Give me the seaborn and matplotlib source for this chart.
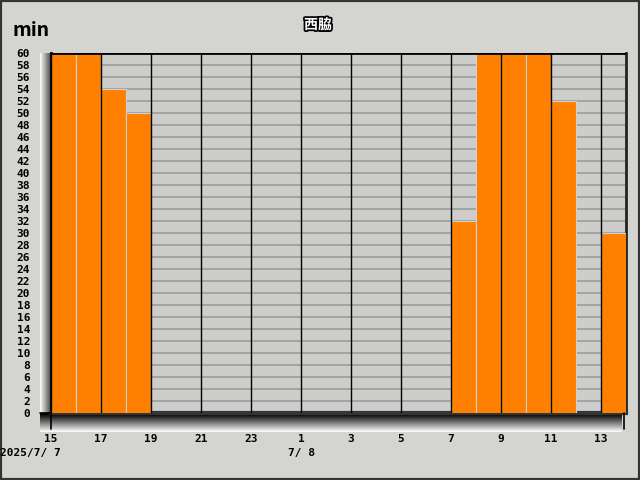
import matplotlib
matplotlib.use("Agg")
import matplotlib.pyplot as plt
import matplotlib.patheffects as pe
import seaborn as sns
import pandas as pd
import numpy as np

# hourly values (minutes) from 2025/7/7 15:00 to 2025/7/8 13:00
hours = [15, 16, 17, 18, 19, 20, 21, 22, 23, 0, 1, 2, 3, 4, 5, 6, 7, 8, 9, 10, 11, 12, 13]
minutes = [60, 60, 54, 50, 0, 0, 0, 0, 0, 0, 0, 0, 0, 0, 0, 0, 32, 60, 60, 60, 52, 0, 30]
tick_labels = ["15", "17", "19", "21", "23", "1", "3", "5", "7", "9", "11", "13"]

df = pd.DataFrame({"hour": [str(h) for h in hours], "min": minutes})

sns.set_style("white")
plt.rcParams['font.family'] = ['Noto Sans CJK JP', 'DejaVu Sans']
plt.rcParams['text.color'] = 'black'
plt.rcParams['xtick.color'] = 'black'
plt.rcParams['ytick.color'] = 'black'

bg = "#d4d4d0"
fig = plt.figure(figsize=(6.4, 4.8), dpi=100, facecolor=bg)

# bevel strips under and left of the plot
grad = np.linspace(0, 1, 64)
bax = fig.add_axes([40 / 640, 1 - 432 / 480, 582 / 640, 19 / 480])
bax.imshow(grad[:, None], aspect="auto", cmap="gray", vmin=0.05, vmax=1.0, extent=[0, 1, 0, 1])
bax.axis("off")
lax = fig.add_axes([40 / 640, 1 - 413 / 480, 11 / 640, 360 / 480])
lax.imshow(grad[None, ::-1], aspect="auto", cmap="gray", vmin=-0.4, vmax=1.0, extent=[0, 1, 0, 1])
lax.axis("off")

ax = fig.add_axes([51 / 640, 1 - 413 / 480, 575 / 640, 360 / 480])
ax.set_facecolor("#cdcdcb")

sns.barplot(data=df, x="hour", y="min", order=df["hour"], color="#ff8000",
            saturation=1, width=1.0, edgecolor="#d0d0d0", linewidth=0.8, ax=ax, zorder=3)

ax.set_xlim(-0.5, len(hours) - 0.5)
ax.set_ylim(0, 60)
ax.set_yticks(range(0, 61, 2))
ax.set_yticklabels([str(v) for v in range(0, 61, 2)], family="DejaVu Sans Mono",
                   fontsize=8, fontweight="bold")
for v in range(2, 61, 2):
    ax.axhline(v, color="#9c9c9c", lw=1.2, zorder=1)
for i in range(0, len(hours), 2):
    ax.axvline(i - 0.5, color="black", lw=1, zorder=4)
ax.set_xticks([i - 0.5 for i in range(0, len(hours), 2)])
ax.set_xticklabels(tick_labels, family="DejaVu Sans Mono", fontsize=8, fontweight="bold")
ax.tick_params(axis="y", length=0, pad=15)
ax.tick_params(axis="x", length=0, pad=15)
ax.set_xlabel("")
ax.set_ylabel("")
ax.spines["top"].set_visible(False)
ax.spines["right"].set_color("#222222")
ax.spines["right"].set_linewidth(2)
ax.spines["left"].set_color("black")
ax.spines["left"].set_linewidth(2)
ax.spines["bottom"].set_color("#333333")
ax.spines["bottom"].set_linewidth(3)
ax.axhline(60, color="black", lw=2, zorder=5)
# corner marks at the origin
ax.plot([-0.5, -0.5], [0, -2.6], color="black", lw=1.2, clip_on=False, zorder=6)
ax.plot([-0.5, -0.95], [0, 0], color="black", lw=1.2, clip_on=False, zorder=6)
ax.plot([22.4, 22.4], [0, -2.6], color="black", lw=1.2, clip_on=False, zorder=6)

fig.text(12 / 640, 1 - 30 / 480, "min", fontsize=14, fontweight="bold", va="center", ha="left")
fig.text(318 / 640, 1 - 25 / 480, "西脇", fontsize=10, fontweight="bold", color="white",
         ha="center", va="center",
         path_effects=[pe.withStroke(linewidth=2.5, foreground="black")])
fig.text(0 / 640, 1 - 453 / 480, "2025/7/ 7", family="DejaVu Sans Mono", fontsize=8,
         fontweight="bold", ha="left", va="center")
fig.text(301 / 640, 1 - 453 / 480, "7/ 8", family="DejaVu Sans Mono", fontsize=8,
         fontweight="bold", ha="center", va="center")

# outer frame
fig.patches.append(plt.Rectangle((0, 0), 1, 1, transform=fig.transFigure, fill=False,
                                 edgecolor="#333333", lw=3))

fig.savefig("out.png", dpi=100, facecolor=bg)
